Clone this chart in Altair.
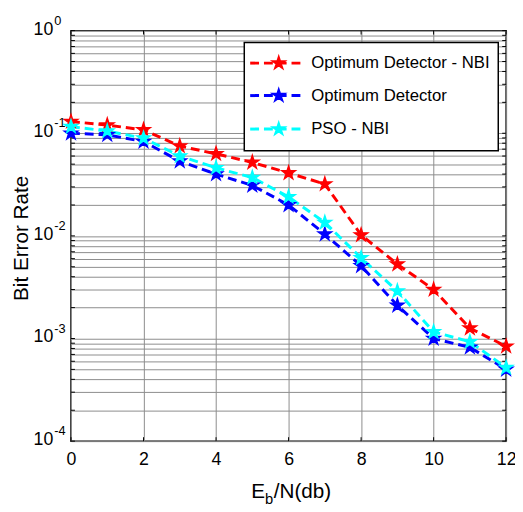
import altair as alt
import pandas as pd

# ---- data ----
snr = [0, 1, 2, 3, 4, 5, 6, 7, 8, 9, 10, 11, 12]
opt_nbi = [0.13, 0.12, 0.108, 0.075, 0.063, 0.052, 0.041, 0.032, 0.0102, 0.0053, 0.0030, 0.00126, 0.00084]
opt = [0.100, 0.0966, 0.083, 0.0535, 0.040, 0.031, 0.020, 0.0104, 0.0051, 0.0021, 0.0010, 0.00082, 0.00050]
pso_nbi = [0.116, 0.105, 0.0895, 0.060, 0.046, 0.037, 0.024, 0.0135, 0.0061, 0.0029, 0.00116, 0.00093, 0.00052]
series_names = ["Optimum Detector - NBI", "Optimum Detector", "PSO - NBI"]
series_colors = ["#ff0000", "#0000ff", "#00ffff"]
x_ticks = [0, 2, 4, 6, 8, 10, 12]
decades = [1, 0.1, 0.01, 0.001, 0.0001]
exponents = ["0", "-1", "-2", "-3", "-4"]

W, H = 442, 417
FONT = "Liberation Sans, Arial, sans-serif"

minor = []
for d in [1e-4, 1e-3, 1e-2, 1e-1]:
    for m in range(1, 10):
        minor.append(round(m * d, 6))
minor.append(1.0)

rows = []
for name, vals in zip(series_names, [opt_nbi, opt, pso_nbi]):
    for xv, yv in zip(snr, vals):
        rows.append({"snr": xv, "ber": yv, "series": name})
df = pd.DataFrame(rows)

xs = alt.Scale(domain=[0, 12], nice=False, zero=False)
ys = alt.Scale(type="log", domain=[1e-4, 1], nice=False)

STAR = "M0,-1L0.2245,-0.309L0.951,-0.309L0.363,0.118L0.588,0.809L0,0.382L-0.588,0.809L-0.363,0.118L-0.951,-0.309L-0.2245,-0.309Z"

# grid via axes
base_grid = alt.Chart(pd.DataFrame({"snr": [0], "ber": [1e-4]})).mark_point(opacity=0).encode(
    x=alt.X("snr:Q", scale=xs, axis=alt.Axis(values=x_ticks, grid=True, gridColor="#8c8c8c", gridWidth=1,
                                           ticks=False, domain=False, labelFont=FONT, labelFontSize=18,
                                           labelColor="black", labelPadding=10, title=None, labelFlush=False)),
    y=alt.Y("ber:Q", scale=ys, axis=alt.Axis(values=minor, grid=True, gridColor="#8c8c8c", gridWidth=1,
                                           ticks=False, domain=False, labels=False, title=None)),
)

# inner ticks
ydf = pd.DataFrame({"ber": minor})
xdf = pd.DataFrame({"snr": x_ticks})
tick_l = alt.Chart(ydf).mark_rule(color="black", strokeWidth=1).encode(
    y=alt.Y("ber:Q", scale=ys), x=alt.value(0), x2=alt.value(4))
tick_r = alt.Chart(ydf).mark_rule(color="black", strokeWidth=1).encode(
    y=alt.Y("ber:Q", scale=ys), x=alt.value(W - 4), x2=alt.value(W))
tick_b = alt.Chart(xdf).mark_rule(color="black", strokeWidth=1).encode(
    x=alt.X("snr:Q", scale=xs), y=alt.value(H - 4), y2=alt.value(H))
tick_t = alt.Chart(xdf).mark_rule(color="black", strokeWidth=1).encode(
    x=alt.X("snr:Q", scale=xs), y=alt.value(0), y2=alt.value(4))

color_scale = alt.Scale(domain=series_names, range=series_colors)

lines = alt.Chart(df).mark_line(strokeWidth=3, strokeDash=[9, 5]).encode(
    x=alt.X("snr:Q", scale=xs), y=alt.Y("ber:Q", scale=ys),
    color=alt.Color("series:N", scale=color_scale, legend=None),
    detail="series:N")
points = alt.Chart(df).mark_point(shape=STAR, size=196, filled=True, strokeWidth=1.5, opacity=1).encode(
    x=alt.X("snr:Q", scale=xs), y=alt.Y("ber:Q", scale=ys),
    color=alt.Color("series:N", scale=color_scale, legend=None),
    stroke=alt.Color("series:N", scale=color_scale, legend=None))

# y tick labels (10 with superscript)
lab_df = pd.DataFrame({"ber": decades, "exp": exponents, "base": ["10"] * len(decades)})
lab10 = alt.Chart(lab_df).mark_text(font=FONT, fontSize=18, align="right", baseline="middle", color="black", dy=-1).encode(
    y=alt.Y("ber:Q", scale=ys), x=alt.value(-18), text="base:N")
labexp = alt.Chart(lab_df).mark_text(font=FONT, fontSize=13, align="left", baseline="middle", color="black", dy=-10).encode(
    y=alt.Y("ber:Q", scale=ys), x=alt.value(-17), text="exp:N")

# axis titles
one = pd.DataFrame({"t": [0]})
ytitle = alt.Chart(one).mark_text(text="Bit Error Rate", font=FONT, fontSize=21, angle=270,
                                  align="center", baseline="middle", color="black").encode(
    x=alt.value(-50), y=alt.value(211))
xt_E = alt.Chart(one).mark_text(text="E", font=FONT, fontSize=21, align="left", baseline="alphabetic", color="black").encode(
    x=alt.value(183), y=alt.value(475))
xt_b = alt.Chart(one).mark_text(text="b", font=FONT, fontSize=15, align="left", baseline="alphabetic", color="black").encode(
    x=alt.value(197), y=alt.value(481))
xt_rest = alt.Chart(one).mark_text(text="/N(db)", font=FONT, fontSize=21, align="left", baseline="alphabetic", color="black").encode(
    x=alt.value(206), y=alt.value(475))

# legend
leg_box = alt.Chart(one).mark_rect(fill="white", stroke="black", strokeWidth=1.5).encode(
    x=alt.value(176), x2=alt.value(434), y=alt.value(12), y2=alt.value(122))
leg_layers = [leg_box]
row_y = [33, 66, 100]
for name, col, yy in zip(series_names, series_colors, row_y):
    leg_layers.append(alt.Chart(one).mark_rule(color=col, strokeWidth=3, strokeDash=[9, 5]).encode(
        x=alt.value(182), x2=alt.value(238), y=alt.value(yy)))
    leg_layers.append(alt.Chart(one).mark_point(shape=STAR, size=196, filled=True, color=col, stroke=col,
                                                strokeWidth=1.5, opacity=1).encode(
        x=alt.value(211), y=alt.value(yy)))
    leg_layers.append(alt.Chart(one).mark_text(text=name, font=FONT, fontSize=17, align="left",
                                               baseline="middle", color="black").encode(
        x=alt.value(244), y=alt.value(yy)))

chart = alt.layer(
    base_grid, tick_l, tick_r, tick_b, tick_t, lines, points, lab10, labexp,
    ytitle, xt_E, xt_b, xt_rest, *leg_layers
).properties(
    width=W, height=H,
    autosize=alt.AutoSizeParams(type="none"),
    padding={"left": 64, "top": 19, "right": 9, "bottom": 68},
    background="white",
).configure_view(stroke="black", strokeWidth=1.5)

chart.save("out.html", embed_options={"renderer": "svg", "actions": False})
